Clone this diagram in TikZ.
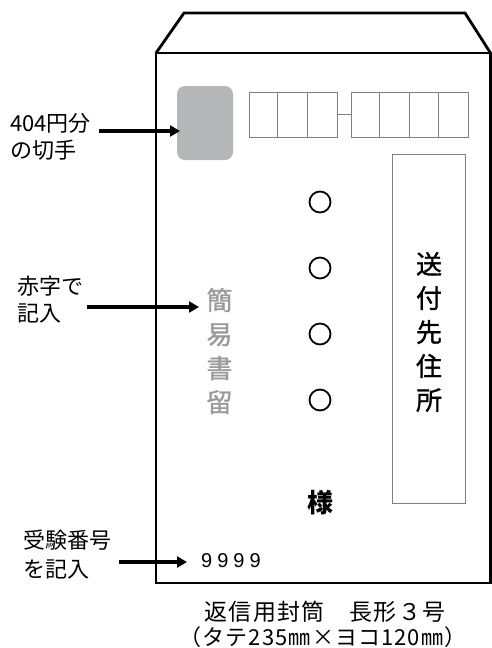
\documentclass[tikz,border=0pt]{standalone}
\usepackage{fontspec}
\setmainfont{Noto Sans CJK JP}
\newfontfamily\numfont[LetterSpace=25]{Liberation Sans}
\newfontfamily\colfont[FakeBold=1.2]{Noto Sans CJK JP}
\newfontfamily\capfont[LetterSpace=5]{Noto Sans CJK JP}
\usepackage{tikz}
\usetikzlibrary{arrows.meta}
\definecolor{stampgray}{HTML}{B5B6B8}
\definecolor{linegray}{HTML}{808080}
\definecolor{redgray}{HTML}{9A9A9A}
\tikzset{
  env/.style={line width=2.8pt, line join=miter},
  cell/.style={draw=linegray, line width=0.9pt, minimum height=45pt, inner sep=0pt},
  arr/.style={line width=3.6pt, -{Triangle[length=10pt,width=11pt]}},
  lbl/.style={anchor=west, inner sep=0pt, align=left, font=\fontsize{22}{27}\selectfont},
  col/.style={inner sep=0pt, align=center, font=\colfont\fontsize{26}{34}\selectfont},
}

\begin{document}
\begin{tikzpicture}[x=1pt,y=-1pt]
            \useasboundingbox (0,0) rectangle (492,648);

            % envelope and flap
            \draw[env] (156,53) rectangle (490.5,583);
            \draw[env] (156,53) -- (184,13) -- (465,13) -- (490.5,53);

            % stamp and postal code boxes
            \node[fill=stampgray, rounded corners=8pt, minimum width=56pt, minimum height=74pt] (stamp) at (205,123) {};
            \node[cell, minimum width=88pt] (zipa) at (293,114.5) {};
            \node[cell, minimum width=117pt] (zipb) at (409.5,114.5) {};
            \foreach \i in {1,2}
                \draw[linegray, line width=0.9pt] ([xshift=\i*29.33pt]zipa.north west) -- ([xshift=\i*29.33pt]zipa.south west);
            \foreach \i in {1,2,3}
                \draw[linegray, line width=0.9pt] ([xshift=\i*29.25pt]zipb.north west) -- ([xshift=\i*29.25pt]zipb.south west);
            \draw[linegray, line width=0.9pt] (zipa.east) -- (zipb.west);

            % address box
            \node[draw=linegray, line width=0.9pt, minimum width=73pt, minimum height=349pt] (addrbox) at (428.5,328.5) {};
            \node[col] (addr) at (429,332) {送\\付\\先\\住\\所};

            % name
            \foreach \y [count=\n] in {202,268,334,400}
                \node[circle, draw, line width=1.8pt, minimum size=21pt, inner sep=0pt] (o\n) at (320,\y) {};
            \node[inner sep=0pt, font=\fontsize{26}{30}\selectfont\bfseries] (sama) at (320,503) {様};

            % registered mail
            \node[col, text=redgray] (kanni) at (219.5,351) {簡\\易\\書\\留};
            \node[inner sep=0pt, anchor=west, font=\fontsize{20}{24}\numfont] (num) at (201,560.5) {9999};

            % labels
            \node[lbl] (lblstamp) at (10,136.5) {404円分\\の切手};
            \node[lbl] (lblred) at (17,300) {赤字で\\記入};
            \node[lbl, font=\fontsize{22}{29}\selectfont] (lblnum) at (23,554.5) {受験番号\\を記入};

            \coordinate (stamptip) at (180,131);
            \coordinate (kannitip) at (199,307);
            \coordinate (numtip) at (187,562);
            \draw[arr, shorten <=8pt] (lblstamp.east |- stamptip) -- (stamptip);
            \draw[arr, shorten <=4pt] (lblred.east |- kannitip) -- (kannitip);
            \draw[arr, shorten <=8pt] (lblnum.east |- numtip) -- (numtip);

            % caption
            \node[inner sep=0pt, font=\capfont\fontsize{23}{27}\selectfont] (cap) at (325,612) {返信用封筒　長形３号};
            \node[inner sep=0pt, font=\capfont\fontsize{22}{27}\selectfont] (size) at (323,637) {（タテ235㎜×ヨコ120㎜）};
        \end{tikzpicture}
\end{document}
